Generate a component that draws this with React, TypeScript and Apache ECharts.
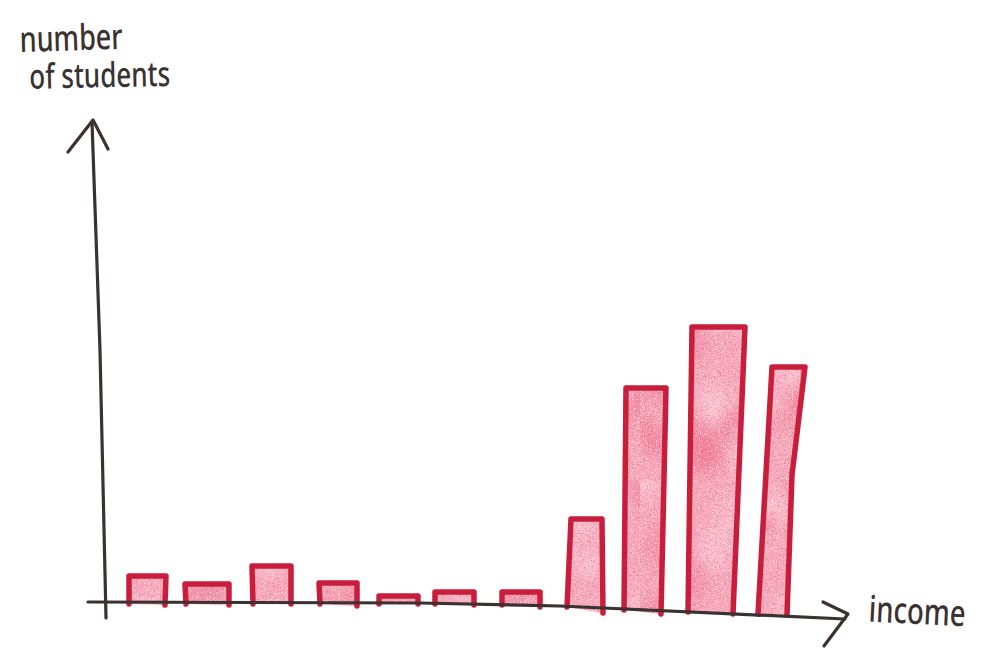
import React, { useEffect, useRef } from "react";
import * as echarts from "echarts";

// Income edges of each bar (top-left, top-right, bottom-left, bottom-right)
const incomeTopLeft = [29, 85, 152, 219, 279, 335, 402, 471, 526, 592, 672];
const incomeTopRight = [66, 129, 191, 257, 318, 374, 440, 502, 566, 645, 705];
const incomeBottomLeft = [29, 86, 153, 220, 279, 335, 402, 467, 524, 588, 658];
const incomeBottomRight = [65, 129, 191, 257, 318, 374, 440, 503, 561, 633, 687];
// Number of students (bar tops) and where each hand-drawn side stops below the axis line
const students = [27, 19, 37, 20, 7, 11, 11, 84, 215, 276, 236];
const baseLeft = [-1, -1, -1, -1, -1, -1, -2, -4, -7, -9, -11];
const baseRight = [-2, -2, -1, -3, -1, -2, -4, -10, -11, -11, -12];
// The last bar's right edge bends part-way down
const bendIncome = [null, null, null, null, null, null, null, null, null, null, 692];
const bendStudents = [null, null, null, null, null, null, null, null, null, null, 128];

const yAxisTitle = ["number", "of students"];
const xAxisTitle = "income";

const INK = "#3b3130";
const RED = "#c91e3b";

// Coloured-pencil grain for the bar fill: a fixed pseudo-random speckle tile.
function pencilTile(): HTMLCanvasElement {
  const w = 160;
  const h = 240;
  const c = document.createElement("canvas");
  c.width = w;
  c.height = h;
  const ctx = c.getContext("2d")!;
  let seed = 12345;
  const next = () => {
    seed = (seed * 1664525 + 1013904223) >>> 0;
    return seed / 4294967296;
  };
  ctx.fillStyle = "#f5a9bb";
  ctx.fillRect(0, 0, w, h);
  for (let i = 0; i < 26; i++) {
    const x = next() * w;
    const y = next() * h;
    const r = 12 + next() * 26;
    const g = ctx.createRadialGradient(x, y, 0, x, y, r);
    const col = next() < 0.5 ? "238,112,140" : "252,214,224";
    g.addColorStop(0, `rgba(${col},0.55)`);
    g.addColorStop(1, `rgba(${col},0)`);
    ctx.fillStyle = g;
    ctx.fillRect(x - r, y - r, r * 2, r * 2);
  }
  for (let i = 0; i < 9000; i++) {
    const x = Math.floor(next() * w);
    const y = Math.floor(next() * h);
    ctx.fillStyle = next() < 0.5 ? "rgba(255,235,240,0.5)" : "rgba(232,90,122,0.4)";
    ctx.fillRect(x, y, 1, 1);
  }
  return c;
}

export default function App() {
  const ref = useRef<HTMLDivElement>(null);
  useEffect(() => {
    const chart = echarts.init(ref.current!, null, { renderer: "svg" });
    const tile = pencilTile();
    const renderBar = (_: any, api: any) => {
      const tl = api.coord([api.value(0), api.value(4)]);
      const tr = api.coord([api.value(1), api.value(4)]);
      const bl = api.coord([api.value(2), api.value(5)]);
      const br = api.coord([api.value(3), api.value(6)]);
      const right = [tr];
      const bx = api.value(7);
      if (bx !== null && !isNaN(bx)) right.push(api.coord([bx, api.value(8)]));
      right.push(br);
      return {
        type: "group",
        children: [
          {
            type: "polygon",
            shape: { points: [tl, ...right, bl] },
            style: { fill: { image: tile, repeat: "repeat" } as any },
          },
          {
            type: "polyline",
            shape: { points: [bl, tl, ...right] },
            style: { fill: "none", stroke: RED, lineWidth: 5.5, lineJoin: "round", lineCap: "round" },
          },
        ],
      };
    };
    const rows = students.map((s, i) => [
      incomeTopLeft[i],
      incomeTopRight[i],
      incomeBottomLeft[i],
      incomeBottomRight[i],
      s,
      baseLeft[i],
      baseRight[i],
      bendIncome[i],
      bendStudents[i],
    ]);
    const ink = { stroke: INK, lineWidth: 3.2, lineCap: "round", lineJoin: "round", fill: "none" };
    const text = (t: string, x: number, y: number, size: number, rotation = 0) => ({
      type: "text",
      x,
      y,
      rotation,
      scaleY: 1.32,
      z: 10,
      style: {
        text: t,
        fill: INK,
        font: `500 ${size}px "Noto Sans", sans-serif`,
      },
    });
    chart.setOption({
      animation: false,
      backgroundColor: "#ffffff",
      grid: { left: 100, right: 0, top: 0, bottom: 0 },
      xAxis: { type: "value", min: 0, max: 898, show: false },
      yAxis: { type: "value", min: -58, max: 603, show: false },
      series: [
        {
          type: "custom",
          renderItem: renderBar,
          data: rows,
          dimensions: ["tl", "tr", "bl", "br", "students", "baseL", "baseR", "bx", "by"],
          encode: { x: [0, 1], y: 4 },
          clip: false,
        },
      ],
      graphic: [
        { type: "polyline", z: 10, shape: { points: [[92, 122], [100, 350], [106, 618]] }, style: ink },
        { type: "polyline", z: 10, shape: { points: [[68, 152], [93, 120], [108, 149]] }, style: ink },
        { type: "polyline", z: 10, shape: { points: [[88, 602], [420, 603], [560, 606], [845, 619]] }, style: ink },
        { type: "polyline", z: 10, shape: { points: [[823, 602], [848, 614], [824, 646]] }, style: ink },
        text(yAxisTitle[0], 19, 20, 27, 0.03),
        text(yAxisTitle[1], 29, 58, 26, 0.02),
        text(xAxisTitle, 870, 589, 27.5, -0.05),
      ],
    });
    return () => chart.dispose();
  }, []);
  return (
    <div
      ref={ref}
      style={{ position: "fixed", left: 0, top: 0, width: 998, height: 661, background: "#fff" }}
    />
  );
}
